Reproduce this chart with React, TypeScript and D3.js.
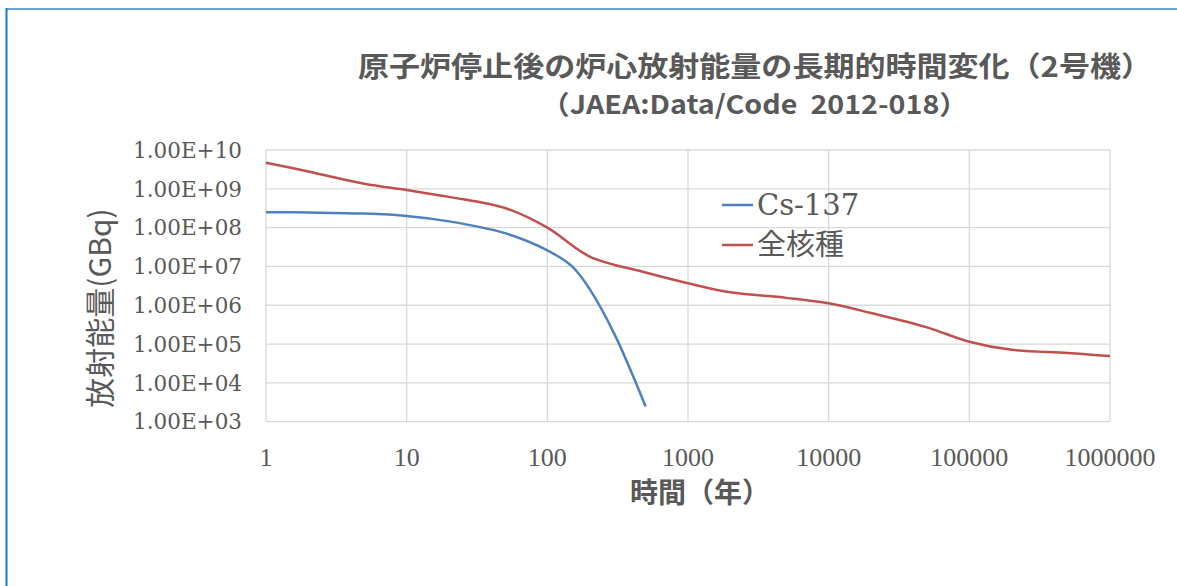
import React from "react";
import * as d3 from "d3";

const titleLine1 = "原子炉停止後の炉心放射能量の長期的時間変化（2号機）";
const titleLine2 = "（JAEA:Data/Code\u00a0\u00a02012-018）";
const xAxisTitle = "時間（年）";
const yAxisTitle = "放射能量(GBq)";

const xTicks = [1, 10, 100, 1000, 10000, 100000, 1000000];
const yTicks = [1e3, 1e4, 1e5, 1e6, 1e7, 1e8, 1e9, 1e10];
const yTickLabels = ["1.00E+03", "1.00E+04", "1.00E+05", "1.00E+06", "1.00E+07", "1.00E+08", "1.00E+09", "1.00E+10"];

const csYears = [1, 2, 5, 10, 20, 50, 100, 150, 200, 300, 500];
const csValues = [2.5e8, 2.45e8, 2.3e8, 2.0e8, 1.45e8, 7.2e7, 2.6e7, 1.0e7, 2.6e6, 1.8e5, 2.45e3];

const allYears = [1, 2, 5, 10, 20, 50, 100, 200, 500, 1000, 2000, 5000, 10000, 20000, 50000, 100000, 200000, 500000, 1000000];
const allValues = [4.7e9, 2.8e9, 1.35e9, 9.3e8, 6.2e8, 3.2e8, 1.0e8, 1.8e7, 7.0e6, 3.7e6, 2.15e6, 1.55e6, 1.12e6, 6.3e5, 2.7e5, 1.15e5, 7.1e4, 5.9e4, 4.9e4];

const seriesNames = ["Cs-137", "全核種"];
const seriesColors = ["#4f81bd", "#c0504d"];

export default function App() {
  const W = 1177, H = 586;
  const x = d3.scaleLog().domain([1, 1e6]).range([266, 1110]);
  const y = d3.scaleLog().domain([1e3, 1e10]).range([421.7, 150]);
  const line = d3
    .line<[number, number]>()
    .x((d) => x(d[0]))
    .y((d) => y(d[1]))
    .curve(d3.curveCatmullRom.alpha(0.5));
  const csPath = line(csYears.map((t, i) => [t, csValues[i]] as [number, number])) || "";
  const allPath = line(allYears.map((t, i) => [t, allValues[i]] as [number, number])) || "";
  const gray = "#595959";
  const grid = "#d9d9d9";
  const gothic = "'Noto Sans CJK JP', 'Noto Sans', sans-serif";
  const serif = "'DejaVu Serif', 'Noto Sans CJK JP', serif";

  return (
    <svg width={W} height={H} style={{ position: "absolute", left: 0, top: 0, background: "#fff" }}>
      <rect x={0} y={0} width={W} height={H} fill="#fff" />
      {/* outer frame */}
      <line x1={6} x2={W} y1={9} y2={9} stroke="#6aa6d8" strokeWidth={2} />
      <line x1={6.5} x2={6.5} y1={8} y2={H} stroke="#0a7fd8" strokeWidth={2} />

      {/* titles */}
      <text x={358} y={77} textLength={794} lengthAdjust="spacingAndGlyphs" fontFamily={gothic} fontWeight={700} fontSize={28} fill={gray}>
        {titleLine1}
      </text>
      <text x={541} y={114} textLength={427} lengthAdjust="spacingAndGlyphs" fontFamily={gothic} fontWeight={700} fontSize={26} fill={gray}>
        {titleLine2}
      </text>

      {/* grid */}
      {yTicks.map((v) => (
        <line key={"gy" + v} x1={x(1)} x2={x(1e6)} y1={y(v)} y2={y(v)} stroke={grid} strokeWidth={1.3} />
      ))}
      {xTicks.map((v) => (
        <line key={"gx" + v} x1={x(v)} x2={x(v)} y1={y(1e10)} y2={y(1e3)} stroke={grid} strokeWidth={1.3} />
      ))}

      {/* y tick labels */}
      {yTicks.map((v, i) => (
        <text key={"yl" + v} x={242} y={y(v)} dy="0.36em" textAnchor="end" fontFamily={serif} fontSize={21.5} fill={gray}>
          {yTickLabels[i]}
        </text>
      ))}
      {/* x tick labels */}
      {xTicks.map((v) => (
        <text key={"xl" + v} x={x(v)} y={466} textAnchor="middle" fontFamily="'Liberation Serif', serif" fontSize={26} fill={gray}>
          {String(v)}
        </text>
      ))}

      {/* axis titles */}
      <text x={700} y={503} textAnchor="middle" fontFamily={gothic} fontWeight={700} fontSize={28} fill={gray}>
        {xAxisTitle}
      </text>
      <text
        transform={`translate(111, 308) rotate(-90)`}
        textAnchor="middle"
        fontFamily={gothic}
        fontSize={30}
        fill={gray}
      >
        {yAxisTitle}
      </text>

      {/* series */}
      <path d={allPath} fill="none" stroke={seriesColors[1]} strokeWidth={2.5} />
      <path d={csPath} fill="none" stroke={seriesColors[0]} strokeWidth={2.5} />

      {/* legend */}
      {seriesNames.map((n, i) => (
        <g key={n} transform={`translate(722, ${205 + i * 40})`}>
          <line x1={0} x2={31} y1={0} y2={0} stroke={seriesColors[i]} strokeWidth={2.5} />
          <text x={35} y={0} dy="0.36em" fontFamily={serif} fontSize={29} fill={gray}>
            {n}
          </text>
        </g>
      ))}
    </svg>
  );
}
